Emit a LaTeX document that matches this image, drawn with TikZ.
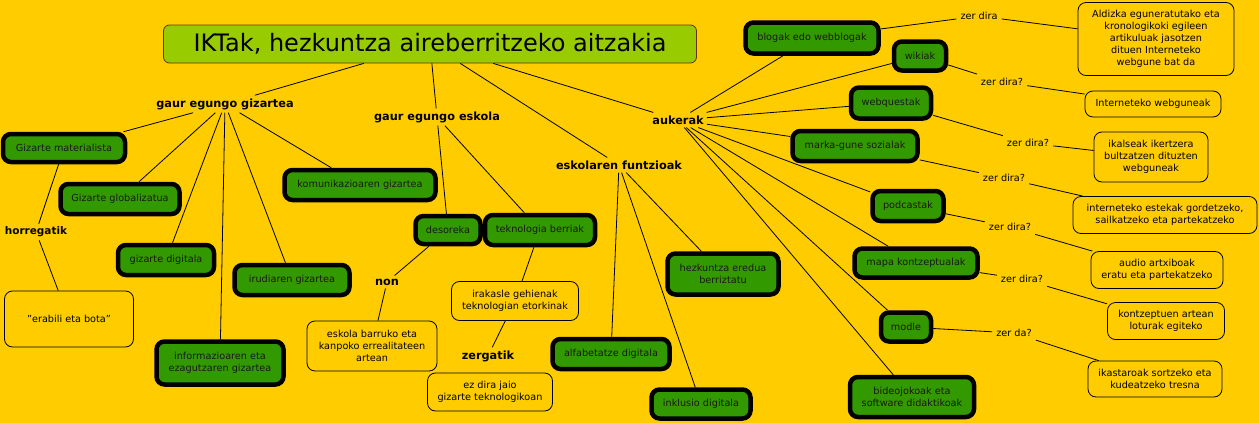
\documentclass[tikz,border=0pt]{standalone}
\usepackage{fontspec}
\setmainfont{DejaVu Sans}
\definecolor{bgc}{HTML}{FFCC00}
\definecolor{gfill}{HTML}{339900}
\definecolor{tfill}{HTML}{99CC00}
\definecolor{tborder}{HTML}{663300}
\newcommand{\fs}{\fontsize{9.7}{12}\selectfont}
\newcommand{\bfs}{\fontsize{11.3}{13}\selectfont\bfseries}
\tikzset{
  gbox/.style={draw=black, line width=4.5pt, fill=gfill, rounded corners=8pt, align=center, font=\fs, inner sep=1pt, text=black!90},
  wbox/.style={draw=black, line width=0.8pt, rounded corners=8pt, align=center, font=\fs, inner sep=1pt},
  bl/.style={font=\bfs, inner sep=3pt},
  zl/.style={font=\fs, inner sep=4pt},
  conn/.style={draw=black, line width=0.8pt}
}
\begin{document}
\begin{tikzpicture}[x=1pt,y=-1pt]
\fill[bgc] (0,0) rectangle (1259,423);
\useasboundingbox (0,0) rectangle (1259,423);
% title
\node[draw=tborder, line width=0.8pt, fill=tfill, rounded corners=6pt, minimum width=533pt, minimum height=38pt, inner sep=0pt, font=\fontsize{24}{28}\selectfont] (title) at (430,44) {IKTak, hezkuntza aireberritzeko aitzakia};
% bold labels
\node[bl] (lgz) at (225,104) {gaur egungo gizartea};
\node[bl] (les) at (437,117) {gaur egungo eskola};
\node[bl] (lef) at (619,165) {eskolaren funtzioak};
\node[bl] (lau) at (678,120) {aukerak};
\node[bl, font=\fontsize{10.5}{12}\selectfont\bfseries] (lho) at (36,232) {horregatik};
\node[bl] (lno) at (387,282) {non};
\node[bl] (lze) at (488,356) {zergatik};
% green boxes
\node[gbox, minimum width=122pt, minimum height=28pt] (gm) at (64,148) {Gizarte materialista};
\node[gbox, minimum width=119pt, minimum height=30pt] (gg) at (120,199) {Gizarte globalizatua};
\node[gbox, minimum width=96pt, minimum height=30pt] (gd) at (166,260) {gizarte digitala};
\node[gbox, minimum width=115pt, minimum height=30pt] (ig) at (292,280) {irudiaren gizartea};
\node[gbox, minimum width=127pt, minimum height=43pt] (ie) at (220,363) {informazioaren eta\\ezagutzaren gizartea};
\node[gbox, minimum width=151pt, minimum height=30pt] (kg) at (360,185) {komunikazioaren gizartea};
\node[gbox, minimum width=65pt, minimum height=28pt] (ds) at (448,230) {desoreka};
\node[gbox, minimum width=110pt, minimum height=30pt] (tb) at (540,230) {teknologia berriak};
\node[gbox, minimum width=117pt, minimum height=30pt] (ad) at (611,354) {alfabetatze digitala};
\node[gbox, minimum width=99pt, minimum height=29pt] (id) at (701,404) {inklusio digitala};
\node[gbox, minimum width=111pt, minimum height=41pt] (he) at (723,274) {hezkuntza eredua\\berriztatu};
\node[gbox, minimum width=133pt, minimum height=31pt] (bw) at (812,38) {blogak edo webblogak};
\node[gbox, minimum width=52pt, minimum height=29pt] (wk) at (920,56) {wikiak};
\node[gbox, minimum width=80pt, minimum height=31pt] (wq) at (891,103) {webquestak};
\node[gbox, minimum width=125pt, minimum height=30pt] (mg) at (855,146) {marka-gune sozialak};
\node[gbox, minimum width=71pt, minimum height=30pt] (pc) at (908,206) {podcastak};
\node[gbox, minimum width=123pt, minimum height=29pt] (mk) at (916,263) {mapa kontzeptualak};
\node[gbox, minimum width=50pt, minimum height=29pt] (md) at (906,327) {modle};
\node[gbox, minimum width=124pt, minimum height=40pt] (bd) at (912,397) {bideojokoak eta\\software didaktikoak};
% white boxes
\node[wbox, minimum width=129pt, minimum height=56pt] (eb) at (69,319) {\symbol{34}erabili eta bota\symbol{34}};
\node[wbox, minimum width=130pt, minimum height=50pt] (ek) at (372,346) {eskola barruko eta\\kanpoko errealitateen\\artean};
\node[wbox, minimum width=127pt, minimum height=39pt] (ir) at (515,301) {irakasle gehienak\\teknologian etorkinak};
\node[wbox, minimum width=125pt, minimum height=38pt] (ez) at (490,392) {ez dira jaio\\gizarte teknologikoan};
\node[wbox, minimum width=156pt, minimum height=73pt] (al) at (1156,39) {Aldizka eguneratutako eta\\kronologikoki egileen\\artikuluak jasotzen\\dituen Interneteko\\webgune bat da};
\node[wbox, minimum width=136pt, minimum height=26pt] (iw) at (1153,104) {Interneteko webguneak};
\node[wbox, minimum width=114pt, minimum height=50pt] (ik) at (1151,157) {ikalseak ikertzera\\bultzatzen dituzten\\webguneak};
\node[wbox, minimum width=184pt, minimum height=37pt] (ie2) at (1165,215) {interneteko estekak gordetzeko,\\sailkatzeko eta partekatzeko};
\node[wbox, minimum width=132pt, minimum height=37pt] (au) at (1157,270) {audio artxiboak\\eratu eta partekatzeko};
\node[wbox, minimum width=117pt, minimum height=37pt] (kz) at (1166,321) {kontzeptuen artean\\loturak egiteko};
\node[wbox, minimum width=134pt, minimum height=36pt] (ks) at (1155,379) {ikastaroak sortzeko eta\\kudeatzeko tresna};
% linking phrases
\node[zl] (z1) at (979,16) {zer dira};
\node[zl] (z2) at (1002,82) {zer dira?};
\node[zl] (z3) at (1028,143) {zer dira?};
\node[zl] (z4) at (1004,178) {zer dira?};
\node[zl] (z5) at (1010,227) {zer dira?};
\node[zl] (z6) at (1022,279) {zer dira?};
\node[zl] (z7) at (1014,333) {zer da?};
% connectors
\foreach \a/\b in {title/lgz, title/les, title/lef, title/lau,
  lgz/gm, gm/lho, lho/eb, lgz/gg, lgz/gd, lgz/ie, lgz/ig, lgz/kg,
  les/ds, les/tb, ds/lno, lno/ek, tb/ir, ir/lze,
  lef/ad, lef/id, lef/he,
  lau/bw, lau/wk, lau/wq, lau/mg, lau/pc, lau/mk, lau/md, lau/bd,
  bw/z1, z1/al, wk/z2, z2/iw, wq/z3, z3/ik, mg/z4, z4/ie2,
  pc/z5, z5/au, mk/z6, z6/kz, md/z7, z7/ks}
  \draw[conn] (\a) -- (\b);
\end{tikzpicture}
\end{document}
